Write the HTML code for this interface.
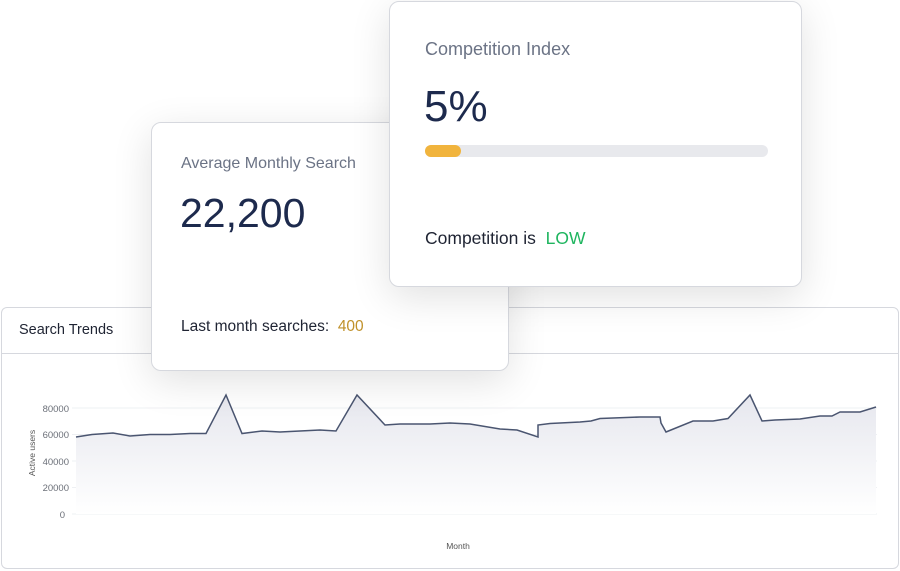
<!DOCTYPE html>
<html><head><meta charset="utf-8"><style>
*{margin:0;padding:0;box-sizing:border-box}
body{width:900px;height:571px;background:#fff;position:relative;overflow:hidden;font-family:"Liberation Sans",sans-serif}
.card{position:absolute;background:#fff;border:1px solid #d6d8de;border-radius:10px}
.t{position:absolute;white-space:nowrap}
</style></head><body>
<div class="card" style="left:1px;top:307px;width:898px;height:262px;border-radius:6px">
 <div style="position:absolute;left:0;right:0;top:45px;border-top:1px solid #d6d8de"></div>
 <div class="t" style="left:17px;top:14px;font-size:14.5px;color:#1f2433">Search Trends</div>
</div>
<svg style="position:absolute;left:0;top:0" width="900" height="571">
<defs><linearGradient id="g" x1="0" y1="0" x2="0" y2="1"><stop offset="0" stop-color="#e6e7ee"/><stop offset="1" stop-color="#ffffff"/></linearGradient></defs>
<g stroke="#eef0f3" stroke-width="1">
<line x1="72" x2="877" y1="408" y2="408"/><line x1="72" x2="877" y1="434.5" y2="434.5"/><line x1="72" x2="877" y1="461" y2="461"/><line x1="72" x2="877" y1="487.5" y2="487.5"/><line x1="72" x2="877" y1="514" y2="514"/>
</g>
<g font-size="9.5" fill="#6b6f78" text-anchor="end" font-family="Liberation Sans">
<text x="69" y="412">80000</text><text x="69" y="438">60000</text><text x="69" y="465">40000</text><text x="69" y="491">20000</text><text x="65" y="518">0</text>
</g>
<text x="35" y="453" font-size="8.5" fill="#555" text-anchor="middle" transform="rotate(-90 35 453)" font-family="Liberation Sans">Active users</text>
<text x="458" y="549" font-size="8.5" fill="#555" text-anchor="middle" font-family="Liberation Sans">Month</text>
<path d="M76,437 L92,434.5 L113,433 L130,436 L150,434.5 L170,434.5 L190,433.5 L206,433.5 L226,395 L242,433.5 L262,431 L280,432 L300,431 L320,430 L336,431 L357,395 L385,425 L400,424 L430,424 L450,423 L470,424 L500,429 L517,430 L538,437 L538,425 L550,423.5 L580,422 L591,421 L600,418.5 L640,417 L660,417 L661,423 L666,432 L693,421 L713,421 L728,418.5 L750,395 L762,421 L775,420 L800,419 L820,416 L832,416 L840,412 L860,412 L876,407 L876,514 L76,514 Z" fill="url(#g)"/>
<path d="M76,437 L92,434.5 L113,433 L130,436 L150,434.5 L170,434.5 L190,433.5 L206,433.5 L226,395 L242,433.5 L262,431 L280,432 L300,431 L320,430 L336,431 L357,395 L385,425 L400,424 L430,424 L450,423 L470,424 L500,429 L517,430 L538,437 L538,425 L550,423.5 L580,422 L591,421 L600,418.5 L640,417 L660,417 L661,423 L666,432 L693,421 L713,421 L728,418.5 L750,395 L762,421 L775,420 L800,419 L820,416 L832,416 L840,412 L860,412 L876,407" fill="none" stroke="#4a5570" stroke-width="1.5"/>
</svg>
<div class="card" style="left:151px;top:122px;width:358px;height:249px;box-shadow:0 10px 40px rgba(0,0,0,0.12)">
 <div class="t" style="left:29px;top:32px;font-size:16px;color:#6b7385">Average Monthly Search</div>
 <div class="t" style="left:28px;top:67px;font-size:41px;color:#1d2a4d">22,200</div>
 <div class="t" style="left:29px;top:195px;font-size:15.5px;color:#1f2433">Last month searches:&nbsp; <span style="color:#c0912a">400</span></div>
</div>
<div class="card" style="left:389px;top:1px;width:413px;height:286px;box-shadow:0 10px 40px rgba(0,0,0,0.12)">
 <div class="t" style="left:35px;top:37px;font-size:18px;color:#6b7385">Competition Index</div>
 <div class="t" style="left:34px;top:80px;font-size:44px;color:#1d2a4d">5%</div>
 <div style="position:absolute;left:35px;top:143px;width:343px;height:12px;border-radius:6px;background:#e8e9ed"><div style="width:36px;height:12px;border-radius:6px;background:#f1b43d"></div></div>
 <div class="t" style="left:35px;top:226px;font-size:17.5px;color:#1f2433">Competition is&nbsp; <span style="color:#1fb55f">LOW</span></div>
</div>
</body></html>
